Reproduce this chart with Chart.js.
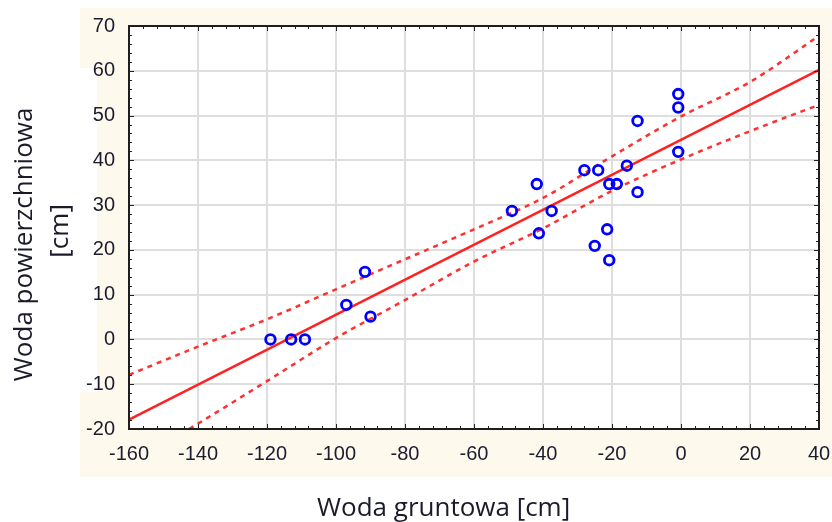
<!DOCTYPE html>
<html>
<head>
<meta charset="utf-8">
<script src="https://cdn.jsdelivr.net/npm/chart.js@4/dist/chart.umd.min.js"></script>
<style>
  html, body { margin: 0; padding: 0; background: #ffffff; }
  #wrap { width: 832px; height: 522px; position: relative; }
</style>
</head>
<body>
<div id="wrap"><canvas id="c" width="832" height="522"></canvas></div>
<script>
// Observations: groundwater level (x) vs surface water level (y), in cm
const groundWater = [-119, -113, -109, -97, -91.6, -90, -49, -41.8, -41.2, -37.5, -28, -24, -25, -21.4, -20.8, -18.6, -20.8, -15.7, -12.6, -12.6, -0.8, -0.8, -0.8];
const surfaceWater = [0, 0, 0, 7.7, 15.1, 5.1, 28.7, 34.7, 23.7, 28.7, 37.8, 37.8, 20.9, 24.6, 34.7, 34.7, 17.7, 38.8, 48.8, 32.9, 54.8, 51.8, 41.9];

// Regression line endpoints
const fitX = [-160, 40];
const fitY = [-17.9, 60.2];

// Confidence bands
const bandX = [-160, -140, -120, -100, -80, -60, -40, -20, 0, 20, 40];
const bandUpper = [-7.9, -1.6, 4.5, 11.2, 17.9, 24.6, 31.6, 40.9, 49.8, 57.5, 67.8];
const bandLower = [-28, -18.8, -9.3, 0.3, 8.8, 17.4, 24.8, 33.2, 40.2, 46.5, 52.4];

// Axis ticks
const xTicks = [-160, -140, -120, -100, -80, -60, -40, -20, 0, 20, 40];
const yTicks = [-20, -10, 0, 10, 20, 30, 40, 50, 60, 70];

const xTitle = 'Woda gruntowa [cm]';
const yTitle = ['Woda powierzchniowa', '[cm]'];

const toPts = (xs, ys) => xs.map((x, i) => ({ x: x, y: ys[i] }));

const bgPlugin = {
  id: 'bg',
  beforeDraw(chart) {
    const ctx = chart.ctx;
    const a = chart.chartArea;
    ctx.save();
    ctx.fillStyle = '#ffffff';
    ctx.fillRect(0, 0, chart.width, chart.height);
    ctx.fillStyle = '#fdf9ec';
    ctx.fillRect(80, 8, 752, 469);
    ctx.fillStyle = '#ffffff';
    ctx.fillRect(80, 68, 17, 324);
    ctx.fillRect(a.left, a.top, a.right - a.left, a.bottom - a.top);
    ctx.restore();
  },
  afterDraw(chart) {
    const ctx = chart.ctx;
    const a = chart.chartArea;
    const xs = chart.scales.x, ys = chart.scales.y;
    ctx.save();
    ctx.strokeStyle = '#222222';
    ctx.lineWidth = 1;
    ctx.beginPath();
    for (let v = xTicks[0]; v <= xTicks[xTicks.length - 1]; v += 4) {
      const p = Math.round(xs.getPixelForValue(v)) + 0.5;
      const len = (v % 20 === 0) ? 5 : 3;
      ctx.moveTo(p, a.bottom); ctx.lineTo(p, a.bottom - len);
      ctx.moveTo(p, a.top); ctx.lineTo(p, a.top + len);
    }
    for (let v = yTicks[0]; v <= yTicks[yTicks.length - 1]; v += 2) {
      const p = Math.round(ys.getPixelForValue(v)) + 0.5;
      const len = (v % 10 === 0) ? 5 : 3;
      ctx.moveTo(a.left, p); ctx.lineTo(a.left + len, p);
      ctx.moveTo(a.right, p); ctx.lineTo(a.right - len, p);
    }
    ctx.stroke();
    ctx.strokeStyle = '#1e1e1e';
    ctx.lineWidth = 2;
    ctx.strokeRect(a.left, a.top, a.right - a.left, a.bottom - a.top);
    ctx.restore();
  }
};

const tickFont = { family: 'Liberation Sans', size: 20 };
const titleFont = { family: 'Open Sans', size: 26 };

new Chart(document.getElementById('c'), {
  type: 'scatter',
  data: {
    datasets: [
      {
        label: 'Pomiary',
        data: toPts(groundWater, surfaceWater),
        pointStyle: 'circle',
        pointRadius: 4.8,
        pointBorderWidth: 2.8,
        borderColor: '#0000ff',
        backgroundColor: 'rgba(0,0,0,0)',
        showLine: false
      },
      {
        label: 'Regresja',
        data: toPts(fitX, fitY),
        showLine: true,
        borderColor: '#ff2020',
        borderWidth: 2.5,
        pointRadius: 0
      },
      {
        label: 'Górny przedział ufności',
        data: toPts(bandX, bandUpper),
        showLine: true,
        borderColor: '#ff3030',
        borderWidth: 2.5,
        borderDash: [5, 5],
        cubicInterpolationMode: 'monotone',
        pointRadius: 0
      },
      {
        label: 'Dolny przedział ufności',
        data: toPts(bandX, bandLower),
        showLine: true,
        borderColor: '#ff3030',
        borderWidth: 2.5,
        borderDash: [5, 5],
        cubicInterpolationMode: 'monotone',
        pointRadius: 0
      }
    ]
  },
  options: {
    responsive: false,
    animation: false,
    events: [],
    layout: { padding: { top: 26, right: 13, left: 0, bottom: 0 } },
    plugins: {
      legend: { display: false },
      tooltip: { enabled: false }
    },
    scales: {
      x: {
        type: 'linear',
        min: xTicks[0],
        max: xTicks[xTicks.length - 1],
        afterBuildTicks: (s) => { s.ticks = xTicks.map(v => ({ value: v })); },
        ticks: { font: tickFont, color: '#1c1c30', padding: 13, maxRotation: 0 },
        grid: { color: '#dedede', lineWidth: 2, drawTicks: false },
        border: { display: false },
        title: {
          display: true,
          text: xTitle + '\u00a0'.repeat(9),
          font: Object.assign({ lineHeight: 1.0 }, titleFont),
          color: '#1a1a2a',
          padding: { top: 0, bottom: 0 }
        },
        afterFit: (s) => { s.height = 93; s.paddingLeft = 0; s.paddingRight = 0; }
      },
      y: {
        type: 'linear',
        min: yTicks[0],
        max: yTicks[yTicks.length - 1],
        afterBuildTicks: (s) => { s.ticks = yTicks.map(v => ({ value: v })); },
        ticks: { font: tickFont, color: '#1c1c30', padding: 14 },
        grid: { color: '#dedede', lineWidth: 2, drawTicks: false },
        border: { display: false },
        title: {
          display: true,
          text: [yTitle[0] + '\u00a0'.repeat(5), yTitle[1] + '\u00a0'],
          font: Object.assign({ lineHeight: 1.4 }, titleFont),
          color: '#1a1a2a',
          padding: { top: 6, bottom: 0 }
        },
        afterFit: (s) => { s.width = 129; }
      }
    }
  },
  plugins: [bgPlugin]
});
</script>
</body>
</html>
